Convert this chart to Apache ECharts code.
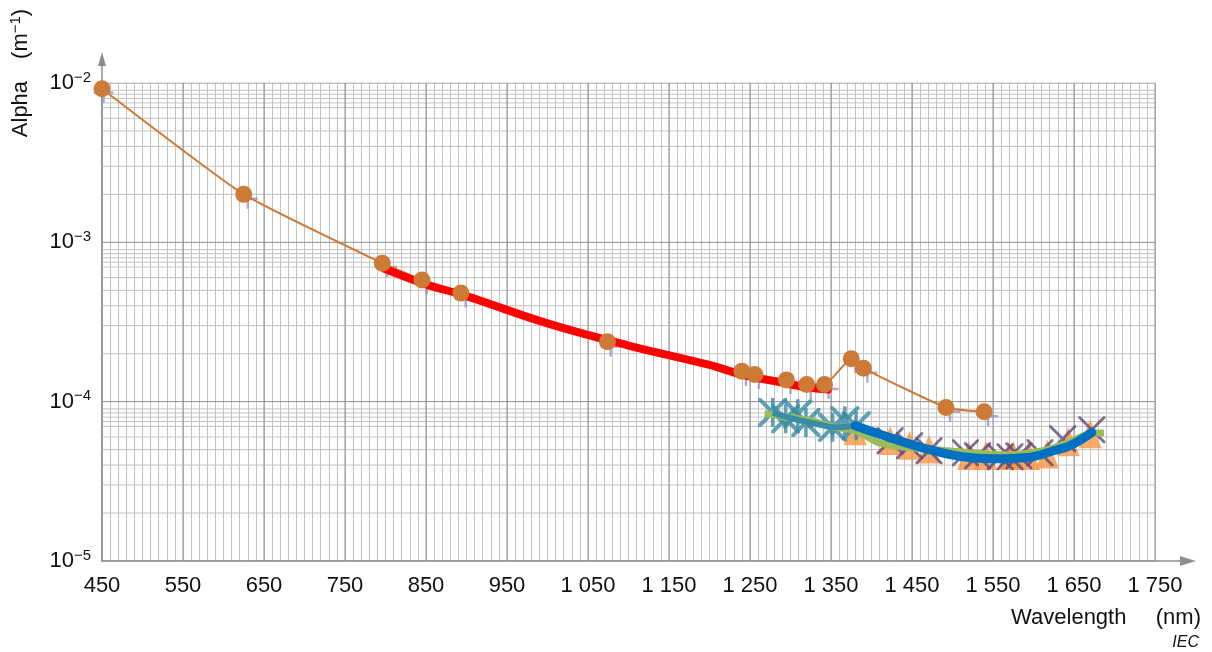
<!DOCTYPE html>
<html><head><meta charset="utf-8">
<script src="https://cdn.jsdelivr.net/npm/echarts@6/dist/echarts.min.js"></script>
<style>html,body{margin:0;padding:0;background:#fff}#c{width:1212px;height:652px}</style>
</head><body><div id="c"></div>
<script>
// ---- axis definitions ----
const xMin = 450, xMax = 1750, xMinorStep = 10;
const xMajorTicks = [450, 550, 650, 750, 850, 950, 1050, 1150, 1250, 1350, 1450, 1550, 1650, 1750];
const yDecades = [1e-5, 1e-4, 1e-3, 1e-2];
const yMinorFactors = [2, 3, 4, 5, 6, 7, 7.5, 8, 8.5, 9];

// ---- data (wavelength nm, alpha m^-1) ----
const orangeX = [450, 625, 796, 845, 893, 1074, 1240, 1256, 1295, 1320, 1342, 1375, 1390, 1492, 1539];
const orangeY = [9.2e-3, 2.0e-3, 7.4e-4, 5.8e-4, 4.8e-4, 2.38e-4, 1.55e-4, 1.48e-4, 1.37e-4, 1.28e-4, 1.28e-4, 1.86e-4, 1.62e-4, 9.2e-5, 8.65e-5];

const plusX = [452, 630, 802, 851, 899, 1078, 1245, 1261, 1300, 1325, 1347, 1380, 1395, 1497, 1544];
const plusY = [8.7e-3, 1.88e-3, 7.0e-4, 5.45e-4, 4.5e-4, 2.22e-4, 1.45e-4, 1.39e-4, 1.29e-4, 1.2e-4, 1.2e-4, 1.75e-4, 1.52e-4, 8.65e-5, 8.1e-5];

const redX = [798, 850, 900, 1000, 1100, 1200, 1240, 1295, 1320, 1346];
const redY = [6.85e-4, 5.45e-4, 4.6e-4, 3.1e-4, 2.25e-4, 1.7e-4, 1.48e-4, 1.3e-4, 1.23e-4, 1.19e-4];

const greenX = [1268, 1290, 1325, 1355, 1380, 1410, 1440, 1470, 1515, 1570, 1610, 1640, 1675, 1687];
const greenY = [8.4e-5, 8.1e-5, 7.6e-5, 6.9e-5, 6.6e-5, 5.5e-5, 5.2e-5, 5.05e-5, 4.8e-5, 4.65e-5, 4.9e-5, 5.45e-5, 6.35e-5, 6.35e-5];

const tealLineX = [1278, 1300, 1330, 1355, 1381];
const tealLineY = [8.5e-5, 7.9e-5, 7.3e-5, 6.9e-5, 7.1e-5];
const tealStarX = [1278, 1294, 1309, 1319, 1352, 1367, 1381];
const tealStarY = [8.56e-5, 7.8e-5, 8.4e-5, 7.4e-5, 6.9e-5, 7.6e-5, 7.05e-5];

const triX = [1380, 1423, 1447, 1471, 1520, 1541, 1570, 1575, 1594, 1617, 1643, 1670];
const triY = [6.57e-5, 5.7e-5, 5.32e-5, 5.05e-5, 4.59e-5, 4.59e-5, 4.59e-5, 4.59e-5, 4.59e-5, 4.7e-5, 5.6e-5, 6.3e-5];

const crossX = [1423, 1447, 1471, 1516, 1531, 1559, 1571, 1582, 1608, 1636, 1672];
const crossY = [5.68e-5, 5.29e-5, 4.92e-5, 4.78e-5, 4.57e-5, 4.51e-5, 4.51e-5, 4.57e-5, 4.78e-5, 5.85e-5, 6.67e-5];

const blueX = [1380, 1428, 1469, 1510, 1551, 1592, 1625, 1645, 1672];
const blueY = [7.06e-5, 5.83e-5, 5.04e-5, 4.53e-5, 4.38e-5, 4.46e-5, 4.92e-5, 5.29e-5, 6.41e-5];

// ---- helpers ----
const pairs = (xs, ys) => xs.map((x, i) => [x, ys[i]]);
const FONT = "'Liberation Sans', Arial, sans-serif";
const MINOR = '#c3c3c3', MAJOR = '#8e8e8e';

const PLUS = 'path://M8.8,0H11.2V8.8H20V11.2H11.2V20H8.8V11.2H0V8.8H8.8Z';
const CROSS = 'path://M0,0L1.5,0L10,8.5L18.5,0L20,0L20,1.5L11.5,10L20,18.5L20,20L18.5,20L10,11.5L1.5,20L0,20L0,18.5L8.5,10L0,1.5Z';
const ASTER = 'path://M0,0L2,0L10,8L18,0L20,0L20,2L12,10L20,18L20,20L18,20L10,12L2,20L0,20L0,18L8,10L0,2Z M8.8,0H11.2V20H8.8Z';

const yMinorVals = [];
yDecades.slice(0, -1).forEach(d => yMinorFactors.forEach(f => yMinorVals.push(d * f)));

function gridSeries(vals, horizontal, color) {
  return vals.map(v => ({
    type: 'line', silent: true, symbol: 'none', z: 1, animation: false,
    data: horizontal ? [[xMin, v], [xMax, v]] : [[v, yDecades[0]], [v, yDecades[yDecades.length - 1]]],
    lineStyle: { color: color, width: 1 }
  }));
}

function fmtX(v) {
  if (v >= 1000) return Math.floor(v / 1000) + ' ' + String(v % 1000).padStart(3, '0');
  return String(v);
}

const chart = echarts.init(document.getElementById('c'), null, { renderer: 'canvas' });
const dataSeries = [
  { name: 'plus', type: 'scatter', data: pairs(plusX, plusY), symbol: PLUS, symbolSize: 20,
    itemStyle: { color: '#9d90c9' }, silent: true },
  { name: 'orange', type: 'line', data: pairs(orangeX, orangeY), smooth: 0.15,
    lineStyle: { color: '#cc7a35', width: 2 }, symbol: 'circle', symbolSize: 17,
    itemStyle: { color: '#cc7a35', borderWidth: 0 }, silent: true },
  { name: 'red', type: 'line', data: pairs(redX, redY), smooth: 0.4, symbol: 'none',
    lineStyle: { color: '#ff0000', width: 8, cap: 'round' }, silent: true },
  { name: 'green', type: 'line', data: pairs(greenX, greenY), smooth: 0.3, symbol: 'none',
    lineStyle: { color: '#9bbb59', width: 7 }, silent: true },
  { name: 'tealLine', type: 'line', data: pairs(tealLineX, tealLineY), smooth: 0.4, symbol: 'none',
    lineStyle: { color: '#3a8ca3', width: 6 }, silent: true },
  { name: 'tri', type: 'scatter', data: pairs(triX, triY), symbol: 'triangle', symbolSize: [23, 29],
    itemStyle: { color: '#f79646' }, silent: true },
  { name: 'blue', type: 'line', data: pairs(blueX, blueY), smooth: 0.4, symbol: 'none',
    lineStyle: { color: '#0070c0', width: 9, cap: 'round' }, silent: true },
  { name: 'cross', type: 'scatter', data: pairs(crossX, crossY), symbol: CROSS, symbolSize: 27,
    itemStyle: { color: '#604a7b' }, silent: true },
  { name: 'star', type: 'scatter', data: pairs(tealStarX, tealStarY), symbol: ASTER, symbolSize: 29,
    itemStyle: { color: '#3a8ca3' }, silent: true }
];

const option = {
  animation: false,
  backgroundColor: '#fff',
  grid: { left: 102, right: 57, top: 83, bottom: 91, containLabel: false, outerBoundsMode: 'none' },
  xAxis: {
    type: 'value', min: xMin, max: xMax, interval: xMinorStep,
    axisLine: { show: true, lineStyle: { color: MAJOR, width: 1.5 } },
    axisTick: { show: false },
    splitLine: { show: true, lineStyle: { color: MINOR, width: 1 } },
    axisLabel: {
      margin: 14, fontFamily: FONT, fontSize: 22, color: '#111',
      formatter: v => (xMajorTicks.indexOf(v) >= 0 ? fmtX(v) : '')
    }
  },
  yAxis: {
    type: 'log', logBase: 10, min: yDecades[0], max: yDecades[yDecades.length - 1],
    axisLine: { show: true, lineStyle: { color: MAJOR, width: 1.5 } },
    axisTick: { show: false },
    splitLine: { show: false },
    axisLabel: {
      margin: 11, fontFamily: FONT, color: '#111',
      formatter: v => {
        const e = Math.round(Math.log10(v));
        return '{a|10}{b|\u2212' + (-e) + '}';
      },
      rich: {
        a: { fontFamily: FONT, fontSize: 22, lineHeight: 26, color: '#111' },
        b: { fontFamily: FONT, fontSize: 15, lineHeight: 15, verticalAlign: 'top', color: '#111' }
      }
    }
  },
  series: []
    .concat(gridSeries(yMinorVals, true, MINOR))
    .concat(gridSeries(yDecades, true, MAJOR))
    .concat(gridSeries(xMajorTicks, false, MAJOR))
    .concat(dataSeries)
};
chart.setOption(option);

const p0 = chart.convertToPixel({ gridIndex: 0 }, [xMin, yDecades[0]]);
const p1 = chart.convertToPixel({ gridIndex: 0 }, [xMax, yDecades[yDecades.length - 1]]);
chart.setOption({
  graphic: [
    { type: 'line', shape: { x1: p0[0], y1: p1[1], x2: p0[0], y2: p1[1] - 18 }, style: { stroke: MAJOR, lineWidth: 1.5 }, silent: true },
    { type: 'polygon', shape: { points: [[p0[0], p1[1] - 31], [p0[0] - 4, p1[1] - 17], [p0[0] + 4, p1[1] - 17]] }, style: { fill: MAJOR }, silent: true },
    { type: 'line', shape: { x1: p1[0], y1: p0[1], x2: p1[0] + 26, y2: p0[1] }, style: { stroke: MAJOR, lineWidth: 1.5 }, silent: true },
    { type: 'polygon', shape: { points: [[p1[0] + 41, p0[1]], [p1[0] + 25, p0[1] - 5], [p1[0] + 25, p0[1] + 5]] }, style: { fill: MAJOR }, silent: true },
    { type: 'text', x: 1201, y: 618, silent: true,
      style: { text: 'Wavelength\u2003\u2004(nm)', font: '22px ' + FONT, fill: '#111', align: 'right', verticalAlign: 'middle', textAlign: 'right', textVerticalAlign: 'middle' } },
    { type: 'text', x: 1199, y: 643, silent: true,
      style: { text: 'IEC', font: 'italic 16px ' + FONT, fill: '#111', align: 'right', verticalAlign: 'middle', textAlign: 'right', textVerticalAlign: 'middle' } },
    { type: 'text', x: 21, y: 73, rotation: Math.PI / 2, silent: true,
      style: { text: '{n|Alpha\u2003(m}{s|\u22121}{n|)}', fill: '#111', align: 'center', verticalAlign: 'middle', textAlign: 'center', textVerticalAlign: 'middle',
        rich: { n: { fontFamily: FONT, fontSize: 22, lineHeight: 26, fill: '#111' }, s: { fontFamily: FONT, fontSize: 15, lineHeight: 15, verticalAlign: 'top', fill: '#111' } } } }
  ]
});
</script>
</body></html>
